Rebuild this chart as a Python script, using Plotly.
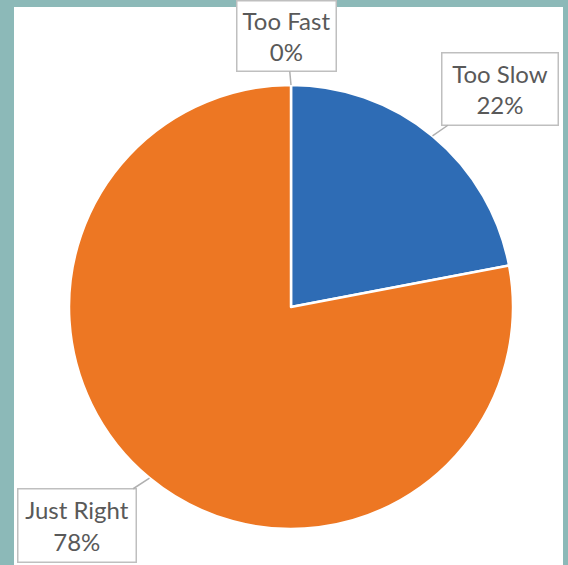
import numpy as np
import plotly.graph_objects as go

categories = ["Too Fast", "Too Slow", "Just Right"]
values = [0, 22, 78]
colors = ["#a5a5a5", "#2e6cb5", "#ed7723"]

W, H = 568, 565
cx, cy, R = 291, 307, 222

fig = go.Figure()
fig.add_trace(go.Pie(
    labels=categories, values=values, sort=False, direction="clockwise", rotation=0,
    marker=dict(colors=colors, line=dict(color="white", width=2.5)),
    textinfo="none", hoverinfo="label+percent", showlegend=False,
    domain=dict(x=[(cx - R) / W, (cx + R) / W], y=[1 - (cy + R) / H, 1 - (cy - R) / H]),
))

# label boxes: centre (px) and size
boxes = {
    "Too Fast": (286.5, 36, 101, 72),
    "Too Slow": (500, 89, 118, 74),
    "Just Right": (77, 525.5, 120, 75),
}

total = sum(values)
cum = 0
for cat, v in zip(categories, values):
    mid = (cum + v / 2) / total * 2 * np.pi
    cum += v
    tx = cx + R * np.sin(mid)
    ty = cy - R * np.cos(mid)
    bx, by, bw, bh = boxes[cat]
    pct = round(v / total * 100)
    fig.add_annotation(
        x=tx / W, y=1 - ty / H, xref="paper", yref="paper",
        ax=bx - tx, ay=by - ty, axref="pixel", ayref="pixel",
        text=f"{cat}<br>{pct}%", showarrow=True, arrowhead=0, arrowwidth=1.5,
        arrowcolor="#b0b0b0", standoff=0,
        font=dict(family="Lato, Open Sans, sans-serif", size=24, color="#595959"),
        bgcolor="white", bordercolor="#bfbfbf", borderwidth=1.5, borderpad=0,
        width=bw - 3, height=bh - 3, align="center", valign="middle",
    )

fig.add_shape(type="rect", xref="paper", yref="paper",
              x0=14 / W, x1=563 / W, y0=0, y1=1 - 7 / H,
              fillcolor="white", line=dict(width=0), layer="below")

fig.update_layout(
    width=W, height=H, margin=dict(l=0, r=0, t=0, b=0),
    paper_bgcolor="#8cb9b8", plot_bgcolor="white",
)
fig.write_html("out.html")
